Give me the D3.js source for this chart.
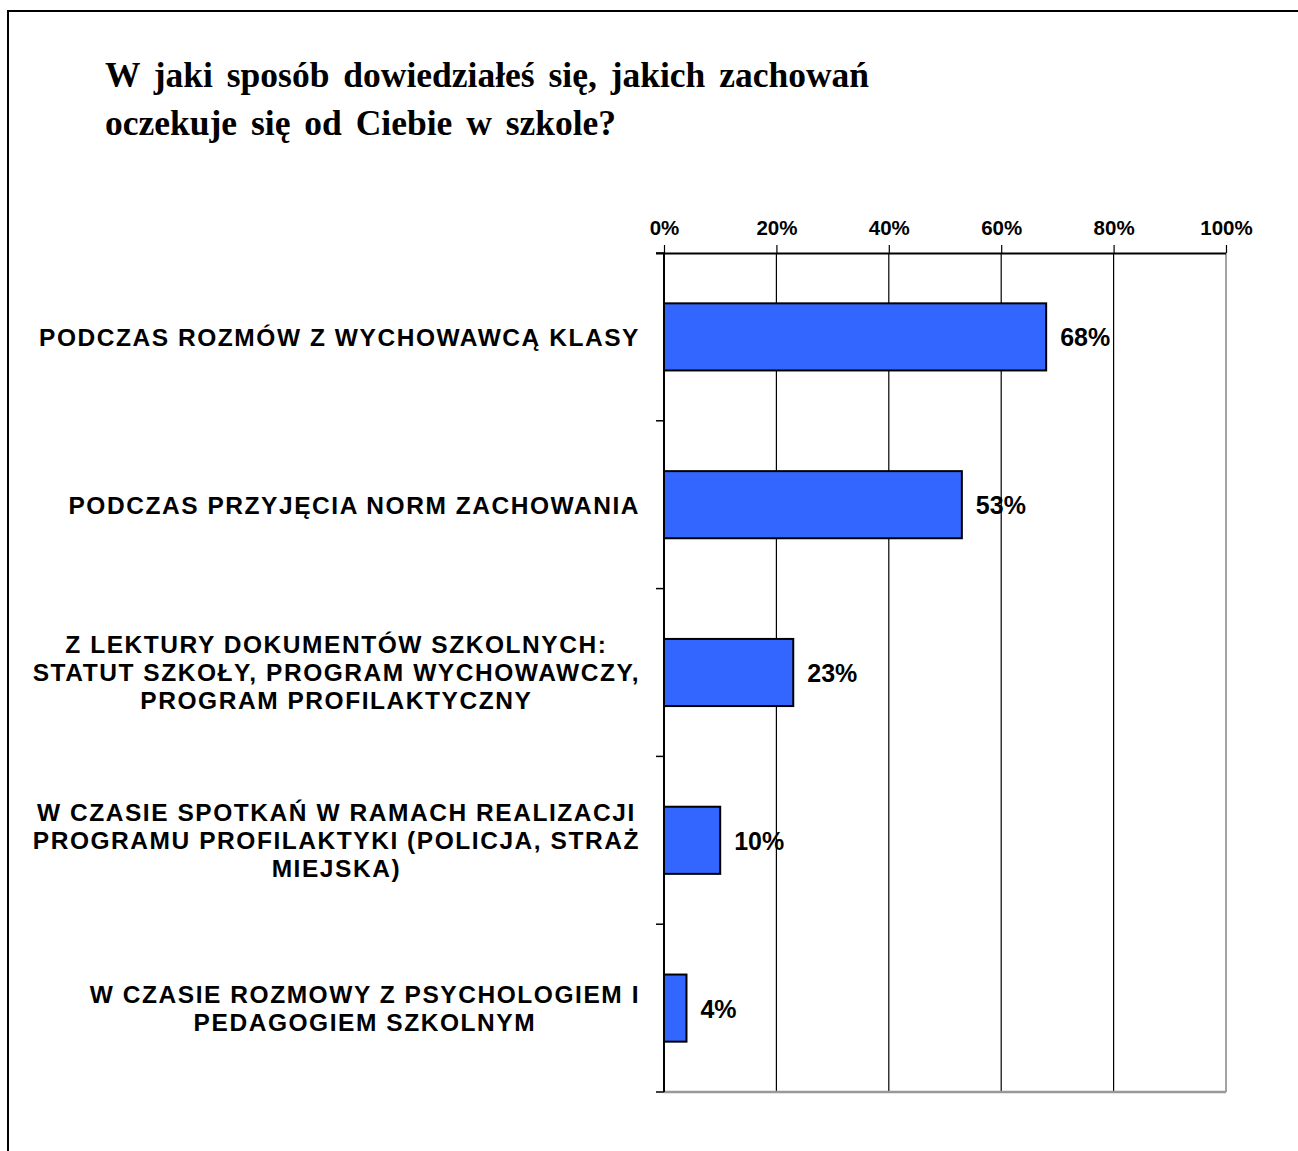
<!DOCTYPE html>
<html>
<head>
<meta charset="utf-8">
<script src="https://cdn.jsdelivr.net/npm/d3@7"></script>
<style>
  html, body { margin: 0; padding: 0; background: #fff; }
  svg { display: block; }
</style>
</head>
<body>
<svg id="chart" width="1298" height="1151"></svg>
<script>
// ---- data ----
const titleLines = [
  "W jaki sposób dowiedziałeś się, jakich zachowań",
  "oczekuje się od Ciebie w szkole?"
];
const categories = [
  ["PODCZAS ROZMÓW Z WYCHOWAWCĄ KLASY"],
  ["PODCZAS PRZYJĘCIA NORM ZACHOWANIA"],
  ["Z LEKTURY DOKUMENTÓW SZKOLNYCH:", "STATUT SZKOŁY, PROGRAM WYCHOWAWCZY,", "PROGRAM PROFILAKTYCZNY"],
  ["W CZASIE SPOTKAŃ W RAMACH REALIZACJI", "PROGRAMU PROFILAKTYKI (POLICJA, STRAŻ", "MIEJSKA)"],
  ["W CZASIE ROZMOWY Z PSYCHOLOGIEM I", "PEDAGOGIEM SZKOLNYM"]
];
const values = [0.68, 0.53, 0.23, 0.10, 0.04];
const valueLabels = ["68%", "53%", "23%", "10%", "4%"];
const tickValues = [0, 0.2, 0.4, 0.6, 0.8, 1.0];
const tickLabels = ["0%", "20%", "40%", "60%", "80%", "100%"];

// ---- layout ----
const svg = d3.select("#chart");
const plot = { left: 664, right: 1226, top: 253, bottom: 1092 };
const sans = "'Liberation Sans', Arial, sans-serif";
const serif = "'Liberation Serif', 'Times New Roman', serif";

// outer frame
svg.append("path")
  .attr("d", "M8,1151 L8,11 L1298,11")
  .attr("fill", "none").attr("stroke", "#000").attr("stroke-width", 2);

// title
svg.append("g").selectAll("text").data(titleLines).join("text")
  .attr("x", 105)
  .attr("y", (d, i) => 87 + i * 48)
  .attr("font-family", serif).attr("font-weight", "bold")
  .attr("font-size", 35.5).attr("word-spacing", 5)
  .attr("fill", "#000")
  .text(d => d);

const x = d3.scaleLinear().domain([0, 1]).range([plot.left, plot.right]);
const idx = d3.range(categories.length);
const y = d3.scaleBand().domain(idx).range([plot.top, plot.bottom]).paddingInner(0.6).paddingOuter(0.3);
const yEdge = d3.scaleLinear().domain([0, categories.length]).range([plot.top, plot.bottom]);

// gridlines
svg.append("g").selectAll("line").data(tickValues.slice(1)).join("line")
  .attr("x1", d => x(d)).attr("x2", d => x(d))
  .attr("y1", plot.top).attr("y2", plot.bottom)
  .attr("stroke", (d) => d === 1 ? "#666" : "#000").attr("stroke-width", 1.2);

// bottom edge (gray)
svg.append("line")
  .attr("x1", plot.left).attr("x2", plot.right)
  .attr("y1", plot.bottom).attr("y2", plot.bottom)
  .attr("stroke", "#999").attr("stroke-width", 2.5);

// top axis
const xAxis = d3.axisTop(x).tickValues(tickValues)
  .tickFormat((d, i) => tickLabels[i]).tickSizeInner(8).tickSizeOuter(0).tickPadding(10);
const gx = svg.append("g").attr("transform", `translate(0,${plot.top})`).call(xAxis);
gx.select(".domain").attr("stroke", "#000").attr("stroke-width", 2)
  .attr("d", `M${plot.left - 8},0.5H${plot.right}`);
gx.selectAll(".tick line").attr("stroke", "#000").attr("stroke-width", 1.2);
gx.selectAll(".tick text")
  .attr("font-family", sans).attr("font-weight", "bold")
  .attr("font-size", 20.5).attr("fill", "#000");

// left axis with boundary ticks
const gy = svg.append("g");
gy.append("line")
  .attr("x1", plot.left).attr("x2", plot.left)
  .attr("y1", plot.top).attr("y2", plot.bottom)
  .attr("stroke", "#000").attr("stroke-width", 2);
gy.selectAll("line.t").data(d3.range(categories.length + 1)).join("line")
  .attr("class", "t")
  .attr("x1", plot.left - 8).attr("x2", plot.left)
  .attr("y1", d => yEdge(d)).attr("y2", d => yEdge(d))
  .attr("stroke", "#000").attr("stroke-width", 1.5);

// bars
svg.append("g").selectAll("rect").data(values).join("rect")
  .attr("x", x(0))
  .attr("y", (d, i) => y(i))
  .attr("width", d => x(d) - x(0))
  .attr("height", y.bandwidth())
  .attr("fill", "#3366FF")
  .attr("stroke", "#000").attr("stroke-width", 2);

// value labels
svg.append("g").selectAll("text").data(values).join("text")
  .attr("x", d => x(d) + 14)
  .attr("y", (d, i) => y(i) + y.bandwidth() / 2)
  .attr("dy", "0.38em")
  .attr("font-family", sans).attr("font-weight", "bold")
  .attr("font-size", 25).attr("fill", "#000")
  .text((d, i) => valueLabels[i]);

// category labels
const lineH = 28;
const catG = svg.append("g").selectAll("g").data(categories).join("g");
catG.each(function (lines, i) {
  const g = d3.select(this);
  const cy = y(i) + y.bandwidth() / 2;
  const texts = g.selectAll("text").data(lines).join("text")
    .attr("y", (d, j) => cy + (j - (lines.length - 1) / 2) * lineH)
    .attr("dy", "0.36em")
    .attr("font-family", sans).attr("font-weight", "bold")
    .attr("font-size", 24.5).attr("letter-spacing", 1.55)
    .attr("fill", "#000")
    .attr("text-anchor", "middle")
    .text(d => d);
  let maxW = 0;
  texts.each(function () { maxW = Math.max(maxW, this.getComputedTextLength()); });
  texts.attr("x", 640 - maxW / 2);
});
</script>
</body>
</html>
